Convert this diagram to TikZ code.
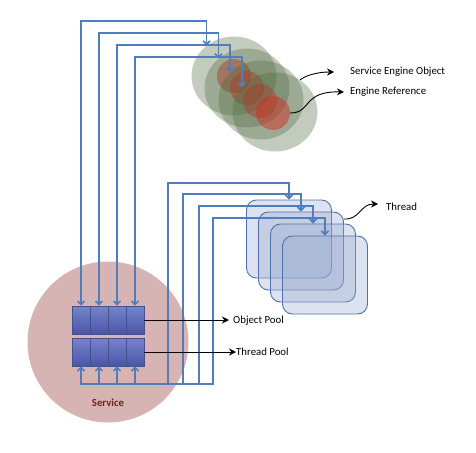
\documentclass[tikz,border=0pt]{standalone}
\usepackage{fontspec}
\setmainfont{Carlito}
\usetikzlibrary{arrows.meta,shapes.geometric,calc}
\definecolor{connblue}{RGB}{79,125,190}
\definecolor{srvpink}{RGB}{214,180,180}
\definecolor{cellTop}{RGB}{118,132,205}
\definecolor{cellBot}{RGB}{72,86,165}
\definecolor{cellLine}{RGB}{70,80,140}
\definecolor{engGreen}{RGB}{80,104,64}
\definecolor{engRed}{RGB}{210,48,38}
\definecolor{thrFill}{RGB}{150,168,205}
\definecolor{thrLine}{RGB}{80,112,172}
\definecolor{srvText}{RGB}{122,30,30}
\tikzset{
  cell/.style={draw=cellLine,line width=0.6pt,top color=cellTop,bottom color=cellBot,minimum width=18pt,minimum height=28pt,inner sep=0pt},
  engine/.style={ellipse,fill=engGreen,fill opacity=0.34,draw=none,minimum width=85pt,minimum height=79pt,inner sep=0pt},
  engref/.style={circle,fill=engRed,fill opacity=0.5,draw=none,minimum size=34pt,inner sep=0pt},
  thrbox/.style={draw=thrLine,line width=0.9pt,fill=thrFill,fill opacity=0.33,rounded corners=10pt,minimum width=85pt,minimum height=78pt,inner sep=0pt},
  conn/.style={draw=connblue,line width=1.7pt,{Straight Barb[length=3.5pt,width=7pt]}-{Straight Barb[length=3.5pt,width=7pt]}},
  lblarrow/.style={draw=black,line width=0.9pt,-{Stealth[length=7pt,width=7pt]}},
  lbl/.style={anchor=west,inner sep=0pt,font=\fontsize{10.8}{13}\selectfont},
}
\begin{document}
\begin{tikzpicture}[x=1pt,y=-1pt]
\useasboundingbox (0,0) rectangle (476,452);
% service circle
\node[circle,fill=srvpink,minimum size=161pt,inner sep=0pt] (srv) at (108,342) {};
\node[font=\fontsize{10.8}{13}\selectfont\bfseries,text=srvText] (srvlbl) at (108,403) {Service};
% pool cells
\foreach \i/\x in {1/81,2/99,3/117,4/135}{
  \node[cell] (op\i) at (\x,320) {};
  \node[cell] (tp\i) at (\x,352) {};
}
% engine objects with their references
\foreach \i/\x/\y/\rx/\ry in {1/234/76/234/76,2/247/88/247/88,3/261/100/260/101,4/275/112/273/113}{
  \node[engine] (e\i) at (\x,\y) {};
  \node[engref] (r\i) at (\rx,\ry) {};
}
% threads
\foreach \i/\x/\y in {1/289/239,2/301/251,3/313/263,4/325/275}{
  \node[thrbox] (t\i) at (\x,\y) {};
}
% connectors to engine objects
\draw[conn] (op1.north) -- (op1.north |- 0,21) -| (e1.132);
\draw[conn] (op2.north) -- (op2.north |- 0,33) -| (e2.134);
\draw[conn] (op3.north) -- (op3.north |- 0,45) -| (e3.138);
\draw[conn] (op4.north) -- (op4.north |- 0,57) -| (e4.143);
% connectors to threads
\draw[conn] (tp1.south) |- (168,384) -- (168,183) -| (t1.north);
\draw[conn] (tp2.south) |- (183,384) -- (183,194) -| (t2.north);
\draw[conn] (tp3.south) |- (199,384) -- (199,206) -| (t3.north);
\draw[conn] (tp4.south) |- (213,384) -- (213,218) -| (t4.north);
% label arrows
\node[lbl] (oplbl) at (233,321) {Object Pool};
\node[lbl] (tplbl) at (236,352) {Thread Pool};
\node[lbl] (thlbl) at (386,207) {Thread};
\node[lbl] (seolbl) at (350,72) {Service Engine Object};
\node[lbl] (erlbl) at (350,92) {Engine Reference};
\draw[lblarrow] (op4.east) -- ($(oplbl.west)+(-4,-1)$);
\draw[lblarrow] (tp4.east) -- (tplbl.west);
\draw[lblarrow] (t2.east |- 0,219) .. controls (360,220) and (360,204) .. ($(thlbl.west)+(-8,-3)$);
\draw[lblarrow] (e4.52) .. controls (305,76) and (316,72) .. ($(seolbl.west)+(-16,0)$);
\draw[lblarrow] (r4.east) .. controls (312,113) and (302,91) .. ($(erlbl.west)+(-6,0)$);
\end{tikzpicture}
\end{document}
